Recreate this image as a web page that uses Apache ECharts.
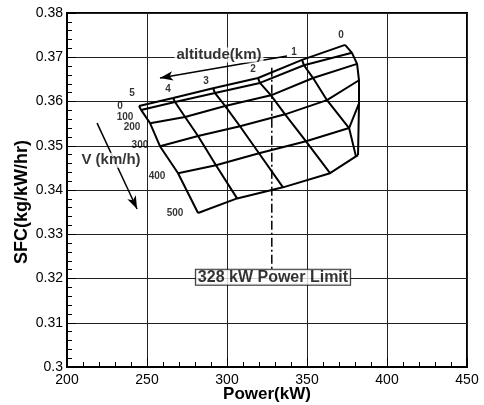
<!DOCTYPE html>
<html>
<head>
<meta charset="utf-8">
<script src="https://cdn.jsdelivr.net/npm/echarts/dist/echarts.min.js"></script>
<style>
  html, body { margin: 0; background: #fff; }
  #chart { width: 484px; height: 405px; }
</style>
</head>
<body>
<div id="chart"></div>
<script>
// carpet grid: rows = flight speed V (km/h), columns = altitude (km)
var speeds = [0, 100, 200, 300, 400, 500];
var altitudes = [0, 1, 2, 3, 4, 5];

// power[i][j] (kW) and sfc[i][j] (kg/kW/hr) for speed i, altitude j
var power = [
    [373.8, 346.9, 319.4, 291.3, 266.3, 245.0],
    [378.1, 348.1, 320.6, 292.5, 267.5, 246.3],
    [381.3, 353.8, 327.5, 298.8, 273.8, 251.9],
    [382.5, 362.5, 336.3, 308.1, 281.9, 258.1],
    [382.5, 376.3, 349.4, 320.0, 293.1, 269.4],
    [381.9, 380.6, 364.4, 335.0, 306.3, 281.9]
];
var sfc = [
    [0.3728, 0.3694, 0.3653, 0.3630, 0.3608, 0.3590],
    [0.3710, 0.3682, 0.3642, 0.3619, 0.3599, 0.3581],
    [0.3685, 0.3653, 0.3614, 0.3590, 0.3565, 0.3551],
    [0.3648, 0.3603, 0.3571, 0.3544, 0.3522, 0.3499],
    [0.3596, 0.3540, 0.3510, 0.3483, 0.3456, 0.3438],
    [0.3479, 0.3476, 0.3438, 0.3406, 0.3381, 0.3348]
];

// power limit line
var powerLimit = 328;
var limitSfc = [0.3676, 0.3219];

// annotations (data coords)
var altArrow = [[337.5, 0.3703], [258.1, 0.3653]];
var vArrow = [[218.8, 0.3551], [243.8, 0.3357]];
var notes = [
    { text: 'altitude(km)', at: [295, 0.3705] },
    { text: 'V (km/h)', at: [227.5, 0.3467] }
];
var limitNote = { text: '328 kW Power Limit', at: [328.75, 0.3203] };

// label nudges in px
var vLabelShift = [[-19, 0], [-16, 7], [-18, 4], [-20, -1], [-21, 3], [-23, 0]];
var altLabelShift = [[-4, -10], [-8, -8], [-5, -9], [-7, -7], [-5, -9], [-7, -13]];

var FONT = 'Liberation Sans, Arial, Helvetica, sans-serif';
var myChart = echarts.init(document.getElementById('chart'));

var meshStyle = { color: '#000', width: 2 };
var series = [];

speeds.forEach(function (v, i) {
    series.push({
        type: 'line', name: 'V ' + v, symbol: 'none', silent: true, z: 3,
        lineStyle: meshStyle,
        data: power[i].map(function (p, j) { return [p, sfc[i][j]]; })
    });
});
altitudes.forEach(function (a, j) {
    series.push({
        type: 'line', name: 'alt ' + a, symbol: 'none', silent: true, z: 3,
        lineStyle: meshStyle,
        data: speeds.map(function (v, i) { return [power[i][j], sfc[i][j]]; })
    });
});

var smallLabel = { show: true, position: 'inside', color: '#000', fontWeight: 'bold', fontSize: 10, fontFamily: FONT };

// speed labels along the left edge (altitude 5)
series.push({
    type: 'scatter', symbolSize: 0, silent: true, z: 5,
    label: smallLabel,
    data: speeds.map(function (v, i) {
        return { value: [power[i][5], sfc[i][5]], label: { formatter: String(v), offset: vLabelShift[i] } };
    })
});
// altitude labels along the top edge (V = 0)
series.push({
    type: 'scatter', symbolSize: 0, silent: true, z: 5,
    label: smallLabel,
    data: altitudes.map(function (a, j) {
        return { value: [power[0][j], sfc[0][j]], label: { formatter: String(a), offset: altLabelShift[j] } };
    })
});

// power limit dash-dot line
series.push({
    type: 'line', symbol: 'none', silent: true, z: 2,
    lineStyle: { color: '#000', width: 1.5, type: [9, 3, 2, 3] },
    data: [[powerLimit, limitSfc[0]], [powerLimit, limitSfc[1]]]
});

// arrows
series.push({
    type: 'line', data: [], silent: true, z: 4,
    markLine: {
        silent: true, animation: false,
        symbol: ['none', 'arrow'], symbolSize: [7, 13],
        label: { show: false },
        lineStyle: { color: '#000', width: 1.5, type: 'solid' },
        data: [
            [{ coord: altArrow[0] }, { coord: altArrow[1] }],
            [{ coord: vArrow[0] }, { coord: vArrow[1] }]
        ]
    }
});

// text notes
series.push({
    type: 'scatter', symbolSize: 0, silent: true, z: 10,
    label: {
        show: true, position: 'inside', color: '#000', fontWeight: 'bold', fontSize: 15,
        fontFamily: FONT, backgroundColor: '#fff', padding: [0, 2],
        formatter: function (p) { return p.data.text; }
    },
    data: notes.map(function (n) { return { value: n.at, text: n.text }; })
});
series.push({
    type: 'scatter', symbolSize: 0, silent: true, z: 10,
    label: {
        show: true, position: 'inside', color: '#000', fontWeight: 'bold', fontSize: 16,
        fontFamily: FONT, backgroundColor: '#fff', borderColor: '#000', borderWidth: 1,
        lineHeight: 15, padding: [0, 2],
        formatter: function (p) { return p.data.text; }
    },
    data: [{ value: limitNote.at, text: limitNote.text }]
});

// minor tick axes (ticks only)
function minorAxis(min, max, step, pos) {
    return {
        type: 'value', min: min, max: max, interval: step, position: pos, offset: 0, z: 6,
        axisLine: { show: false }, axisLabel: { show: false }, splitLine: { show: false },
        axisTick: { show: true, inside: true, length: 5, lineStyle: { color: '#000', width: 1 } }
    };
}

var option = {
    animation: false,
    backgroundColor: '#fff',
    grid: {
        left: 67, right: 17, top: 13, bottom: 38,
        containLabel: false, outerBoundsMode: 'none',
        show: true, borderColor: '#000', borderWidth: 2, backgroundColor: 'transparent'
    },
    xAxis: [{
        type: 'value', min: 200, max: 450, interval: 50, position: 'bottom',
        name: 'Power(kW)', nameLocation: 'middle', nameGap: 19, nameMoveOverlap: false,
        nameTextStyle: { color: '#000', fontWeight: 'bold', fontSize: 17, fontFamily: FONT },
        axisLine: { show: true, lineStyle: { color: '#000', width: 2 } },
        axisTick: { inside: true, length: 9, lineStyle: { color: '#000' } },
        axisLabel: { color: '#000', fontSize: 14, fontFamily: FONT, margin: 6 },
        splitLine: { show: true, lineStyle: { color: '#222', width: 1 } }
    }, minorAxis(200, 450, 10, 'bottom')],
    yAxis: [{
        type: 'value', min: 0.3, max: 0.38, interval: 0.01, position: 'left',
        name: 'SFC(kg/kW/hr)', nameLocation: 'middle', nameGap: 36, nameMoveOverlap: false,
        nameTextStyle: { color: '#000', fontWeight: 'bold', fontSize: 18, fontFamily: FONT, padding: [0, 24, 0, 0] },
        axisLine: { show: true, lineStyle: { color: '#000', width: 2 } },
        axisTick: { inside: true, length: 9, lineStyle: { color: '#000' } },
        axisLabel: { color: '#000', fontSize: 14, fontFamily: FONT, margin: 4 },
        splitLine: { show: true, lineStyle: { color: '#222', width: 1 } }
    }, minorAxis(0.3, 0.38, 0.002, 'left')],
    series: series
};

myChart.setOption(option);
</script>
</body>
</html>
